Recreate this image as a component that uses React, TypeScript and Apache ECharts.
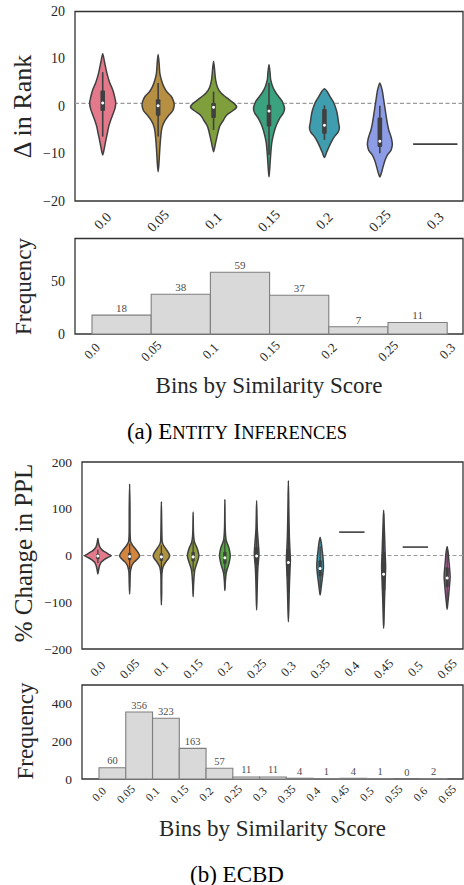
import React, { useEffect, useRef } from 'react';
import * as echarts from 'echarts';

const FONT = 'Liberation Serif, Times New Roman, serif';
const TXT = '#262626';
const OUTLINE = '#404040';

// ---------- (a) Entity Inferences ----------
const topCategories = ['0.0', '0.05', '0.1', '0.15', '0.2', '0.25', '0.3'];
const topColors = ['#e4798c', '#b78f42', '#7f9f3d', '#3ba27f', '#3e9daf', '#8c9ce6', '#d27fd0'];
// violin density profiles: [value, half width as a fraction of the category band]
const topV00 = [[11.1, 0], [9.5, 0.03], [7, 0.075], [5, 0.125], [3.5, 0.18], [2, 0.215], [0.7, 0.235], [-0.5, 0.22], [-1.8, 0.18], [-2.9, 0.145], [-4.2, 0.11], [-5.6, 0.085], [-7, 0.06], [-8.5, 0.035], [-9.5, 0.018], [-10.3, 0]];
const topV05 = [[10.9, 0], [9, 0.018], [7, 0.03], [5.5, 0.06], [4.2, 0.1], [3, 0.16], [2.1, 0.235], [1, 0.28], [0.2, 0.29], [-1, 0.26], [-1.8, 0.2], [-3, 0.125], [-4.3, 0.075], [-5.5, 0.055], [-7.1, 0.042], [-9, 0.03], [-10.6, 0.022], [-12.5, 0.012], [-13.8, 0]];
const topV10 = [[9.5, 0], [7.5, 0.02], [5.6, 0.036], [4, 0.07], [2.8, 0.135], [1.4, 0.28], [0.5, 0.38], [-0.2, 0.415], [-1.0, 0.34], [-1.6, 0.26], [-2.2, 0.215], [-2.9, 0.18], [-4, 0.12], [-5, 0.09], [-6.5, 0.06], [-7.8, 0.036], [-8.8, 0.018], [-9.6, 0]];
const topV15 = [[8.8, 0], [7, 0.02], [5.6, 0.03], [4, 0.07], [2.8, 0.126], [1.8, 0.19], [1, 0.24], [-0.4, 0.28], [-1.5, 0.255], [-2.5, 0.195], [-3.8, 0.14], [-5, 0.103], [-6.5, 0.07], [-7.8, 0.049], [-9.5, 0.035], [-11.3, 0.024], [-13, 0.014], [-14.9, 0]];
const topV20 = [[3.7, 0], [3.2, 0.045], [2.4, 0.085], [1.5, 0.13], [0.7, 0.17], [-0.8, 0.215], [-2.2, 0.24], [-3.5, 0.255], [-4.6, 0.27], [-5.5, 0.245], [-6.4, 0.18], [-7.5, 0.125], [-8.5, 0.085], [-9.7, 0.04], [-10.8, 0]];
const topV25 = [[4.9, 0], [3.5, 0.04], [2.1, 0.06], [0.5, 0.08], [-0.7, 0.096], [-2.2, 0.115], [-3.6, 0.135], [-5, 0.16], [-6.4, 0.2], [-7.3, 0.218], [-8.1, 0.225], [-9.3, 0.2], [-10.3, 0.135], [-11.5, 0.09], [-12.7, 0.06], [-14, 0.03], [-14.9, 0]];
const topProfiles = [topV00, topV05, topV10, topV15, topV20, topV25, null];
// inner box: [whisker low, q1, median, q3, whisker high]
const topBoxes = [
  [-6.4, -1.0, 0.7, 3.3, 7.2],
  [-6.4, -2.0, 0.1, 1.5, 4.9],
  [-5.0, -2.5, -0.2, 0.7, 3.1],
  [-10.3, -4.3, -1.0, 0.3, 4.9],
  [-7.1, -5.8, -4.0, -0.6, 0.2],
  [-9.9, -8.6, -7.4, -2.4, 0.1],
  null,
];
const topSingles = [null, null, null, null, null, null, -8];
const topRefLine = 0.6;
const topYTicks = [-20, 20, 10];
const topBinLabels = ['0.0', '0.05', '0.1', '0.15', '0.2', '0.25', '0.3'];
const topCounts = [18, 38, 59, 37, 7, 11];
const topFreqTicks = [0, 50];

// ---------- (b) ECBD ----------
const botCategories = ['0.0', '0.05', '0.1', '0.15', '0.2', '0.25', '0.3', '0.35', '0.4', '0.45', '0.5', '0.65'];
const botColors = ['#e4798c', '#d3853f', '#ad9240', '#8c9c3f', '#55a640', '#3ca285', '#3ca19e', '#3d9fb6', '#5b9be3', '#9a8ee2', '#c77ed9', '#de72c4'];
const botV00 = [[36.7, 0], [28, 0.02], [18.9, 0.055], [12, 0.13], [8.2, 0.21], [3, 0.33], [-0.4, 0.42], [-4, 0.32], [-8.2, 0.21], [-14, 0.11], [-20, 0.063], [-30, 0.025], [-39.6, 0]];
const botV05 = [[153, 0], [100, 0.012], [50, 0.014], [30, 0.03], [22.5, 0.085], [11.8, 0.21], [5, 0.28], [-0.4, 0.315], [-6, 0.27], [-13, 0.157], [-20, 0.08], [-25, 0.053], [-35, 0.022], [-60, 0.012], [-82.4, 0]];
const botV10 = [[115, 0], [60, 0.012], [30, 0.025], [22.5, 0.063], [11.8, 0.167], [5, 0.23], [-1, 0.26], [-7, 0.22], [-13, 0.148], [-23.9, 0.053], [-40, 0.016], [-80, 0.01], [-106, 0]];
const botV15 = [[93, 0], [50, 0.01], [29.6, 0.04], [15.3, 0.126], [5, 0.17], [1, 0.18], [-5, 0.17], [-13, 0.135], [-22, 0.09], [-31, 0.053], [-45, 0.03], [-65, 0.012], [-88, 0]];
const botV20 = [[120, 0], [60, 0.01], [33, 0.04], [18.9, 0.116], [8, 0.155], [-1, 0.168], [-10, 0.15], [-20, 0.116], [-30, 0.07], [-38, 0.04], [-55, 0.015], [-75, 0]];
const botV25 = [[117, 0], [80, 0.012], [54.5, 0.022], [26, 0.053], [4.7, 0.073], [-10, 0.06], [-24, 0.042], [-40, 0.03], [-59.5, 0.022], [-90, 0.012], [-116.6, 0]];
const botV30 = [[160, 0], [100, 0.014], [40, 0.031], [10, 0.05], [-9.6, 0.063], [-30, 0.05], [-67, 0.031], [-110, 0.015], [-141.5, 0]];
const botV35 = [[39, 0], [25, 0.04], [11.8, 0.063], [-5, 0.09], [-24, 0.105], [-40, 0.085], [-52, 0.063], [-70, 0.03], [-84.5, 0]];
const botV45 = [[97, 0], [70, 0.015], [40, 0.031], [0, 0.05], [-24, 0.063], [-50, 0.05], [-88, 0.031], [-125, 0.015], [-156, 0]];
const botV65 = [[19, 0], [5, 0.035], [-9.6, 0.053], [-30, 0.08], [-45, 0.095], [-60, 0.08], [-81, 0.053], [-100, 0.025], [-115, 0]];
const botProfiles = [botV00, botV05, botV10, botV15, botV20, botV25, botV30, botV35, null, botV45, null, botV65];
const botBoxes = [
  [-16, -8, -1, 4, 13],
  [-30, -10, -2, 6, 25],
  [-32, -12, -3, 5, 22],
  [-35, -13, -3, 8, 30],
  [-40, -18, -5, 8, 35],
  [-60, -20, -1, 18, 55],
  [-80, -45, -15, 15, 70],
  [-70, -45, -28, -10, 20],
  null,
  [-150, -75, -40, 8, 90],
  null,
  [-100, -68, -48, -25, 10],
];
const botSingles = [null, null, null, null, null, null, null, null, 50, null, 18, null];
const botRefLine = 0;
const botBinLabels = ['0.0', '0.05', '0.1', '0.15', '0.2', '0.25', '0.3', '0.35', '0.4', '0.45', '0.5', '0.55', '0.6', '0.65'];
const botCounts = [60, 356, 323, 163, 57, 11, 11, 4, 1, 4, 1, 0, 2];
const botFreqTicks = [0, 200, 400];

const minus = (v: number) => String(v).replace('-', '\u2212');
const fontOf = (s: number) => `${s}px ${FONT}`;

function violinRenderer(profiles: any[], boxes: any[], singles: any[], colors: string[], boxW: number, whiskW: number) {
  return (params: any, api: any) => {
    const i = api.value(0);
    const band = api.size([1, 0])[0];
    const cx = api.coord([i, 0])[0];
    const ys = (v: number) => api.coord([i, v])[1];
    const children: any[] = [];
    if (singles[i] != null) {
      const y = ys(singles[i]);
      children.push({
        type: 'line',
        shape: { x1: cx - 0.4 * band, y1: y, x2: cx + 0.4 * band, y2: y },
        style: { stroke: OUTLINE, lineWidth: 1.6 },
      });
      return { type: 'group', children };
    }
    const prof = profiles[i];
    const right = prof.map((p: number[]) => [cx + p[1] * band, ys(p[0])]);
    const left = prof.slice(1, -1).reverse().map((p: number[]) => [cx - p[1] * band, ys(p[0])]);
    children.push({
      type: 'polygon',
      shape: { points: right.concat(left), smooth: 0.25 },
      style: { fill: colors[i], stroke: OUTLINE, lineWidth: 1.5, lineJoin: 'round' },
    });
    const b = boxes[i];
    children.push({
      type: 'line',
      shape: { x1: cx, y1: ys(b[0]), x2: cx, y2: ys(b[4]) },
      style: { stroke: OUTLINE, lineWidth: whiskW },
    });
    const yq3 = ys(b[3]);
    const yq1 = ys(b[1]);
    children.push({
      type: 'rect',
      shape: { x: cx - boxW / 2, y: yq3, width: boxW, height: yq1 - yq3, r: 1 },
      style: { fill: OUTLINE },
    });
    children.push({
      type: 'circle',
      shape: { cx, cy: ys(b[2]), r: 1.5 },
      style: { fill: '#ffffff' },
    });
    return { type: 'group', children };
  };
}

function refLineRenderer(value: number) {
  return (params: any, api: any) => {
    const cs = params.coordSys;
    const y = api.coord([0, value])[1];
    return {
      type: 'line',
      shape: { x1: cs.x, y1: y, x2: cs.x + cs.width, y2: y },
      style: { stroke: '#9a9a9a', lineWidth: 1.2, lineDash: [4, 2.5] },
    };
  };
}

function histRenderer(labelSize: number) {
  return (params: any, api: any) => {
    const i = api.value(0);
    const c = api.value(1);
    const p0 = api.coord([i, 0]);
    const p1 = api.coord([i + 1, c]);
    return {
      type: 'group',
      children: [
        {
          type: 'rect',
          shape: { x: p0[0], y: p1[1], width: p1[0] - p0[0], height: p0[1] - p1[1] },
          style: { fill: '#d9d9d9', stroke: '#7f7f7f', lineWidth: 1.1 },
        },
        {
          type: 'text',
          x: (p0[0] + p1[0]) / 2,
          y: p1[1] - 1.5,
          style: {
            text: String(c),
            fill: '#4d4d4d',
            font: fontOf(labelSize),
            fontSize: labelSize,
            fontFamily: FONT,
            align: 'center',
            verticalAlign: 'bottom',
            textAlign: 'center',
            textVerticalAlign: 'bottom',
          },
        },
      ],
    };
  };
}

const hidden = { show: false };

function gridBox(left: number, top: number, width: number, height: number) {
  return { left, top, width, height, show: true, borderColor: '#333333', borderWidth: 1.3, backgroundColor: '#ffffff', containLabel: false };
}

function yLabel(size: number) {
  return { fontFamily: FONT, fontSize: size, color: TXT, margin: 10, formatter: minus };
}

function xLabel(size: number, margin: number, fmt?: any, custom?: number[]) {
  const o: any = { fontFamily: FONT, fontSize: size, color: TXT, rotate: 45, align: 'center', verticalAlign: 'middle', margin };
  if (fmt) o.formatter = fmt;
  if (custom) o.customValues = custom;
  return o;
}

function txtStyle(text: string, size: number, color: string) {
  return {
    text,
    font: fontOf(size),
    fontFamily: FONT,
    fontSize: size,
    fill: color,
    align: 'center',
    verticalAlign: 'middle',
    textAlign: 'center',
    textVerticalAlign: 'middle',
  };
}

function vText(text: string, x: number, y: number, size: number) {
  return { type: 'text', x, y, rotation: Math.PI / 2, style: txtStyle(text, size, TXT) };
}

function hText(text: string, x: number, y: number, size: number, color = TXT) {
  return { type: 'text', x, y, style: txtStyle(text, size, color) };
}

function scText(text: string, x: number, y: number, big: number, small: number) {
  const tok = (s: number) => ({ fontFamily: FONT, fontSize: s, color: '#000000', verticalAlign: 'bottom', lineHeight: big });
  return {
    type: 'text',
    x,
    y,
    style: { ...txtStyle(text, big, '#000000'), rich: { b: tok(big), s: tok(small), p: tok(big) } },
  };
}

export default function App() {
  const ref = useRef<HTMLDivElement>(null);
  useEffect(() => {
    if (!ref.current) return;
    const chart = echarts.init(ref.current, null, { renderer: 'svg' });
    const topBinIdx = topBinLabels.map((_, i) => i);
    const botBinIdx = botBinLabels.map((_, i) => i);
    chart.setOption({
      animation: false,
      backgroundColor: '#ffffff',
      textStyle: { fontFamily: FONT },
      grid: [
        gridBox(75, 11.5, 388, 189.5),
        gridBox(75, 238.5, 388, 95.5),
        gridBox(82, 462, 381, 187),
        gridBox(82, 685, 381, 94),
      ],
      xAxis: [
        {
          type: 'category', gridIndex: 0, data: topCategories,
          axisLine: hidden, axisTick: hidden, splitLine: hidden,
          axisLabel: xLabel(14, 20),
        },
        {
          type: 'value', gridIndex: 1, min: -0.287, max: 6.267,
          axisLine: hidden, axisTick: hidden, splitLine: hidden,
          axisLabel: xLabel(13, 17, (v: number) => topBinLabels[Math.round(v)] ?? '', topBinIdx),
        },
        {
          type: 'category', gridIndex: 2, data: botCategories,
          axisLine: hidden, axisTick: hidden, splitLine: hidden,
          axisLabel: { ...xLabel(12.5, 20), interval: 0 },
        },
        {
          type: 'value', gridIndex: 3, min: -0.635, max: 13.6,
          axisLine: hidden, axisTick: hidden, splitLine: hidden,
          axisLabel: xLabel(11.5, 15, (v: number) => botBinLabels[Math.round(v)] ?? '', botBinIdx),
        },
      ],
      yAxis: [
        {
          type: 'value', gridIndex: 0, min: topYTicks[0], max: topYTicks[1], interval: topYTicks[2],
          axisLine: hidden, axisTick: hidden, splitLine: hidden, axisLabel: yLabel(14),
        },
        {
          type: 'value', gridIndex: 1, min: 0, max: 91.3,
          axisLine: hidden, axisTick: hidden, splitLine: hidden,
          axisLabel: { ...yLabel(14), customValues: topFreqTicks },
        },
        {
          type: 'value', gridIndex: 2, min: -200, max: 200, interval: 100,
          axisLine: hidden, axisTick: hidden, splitLine: hidden, axisLabel: yLabel(13.5),
        },
        {
          type: 'value', gridIndex: 3, min: 0, max: 500,
          axisLine: hidden, axisTick: hidden, splitLine: hidden,
          axisLabel: { ...yLabel(13.5), customValues: botFreqTicks },
        },
      ],
      series: [
        { type: 'custom', xAxisIndex: 0, yAxisIndex: 0, silent: true, z: 1, data: [[0]], renderItem: refLineRenderer(topRefLine) },
        {
          type: 'custom', xAxisIndex: 0, yAxisIndex: 0, silent: true, z: 2,
          data: topCategories.map((_, i) => [i]),
          renderItem: violinRenderer(topProfiles, topBoxes, topSingles, topColors, 4.6, 1.6),
        },
        {
          type: 'custom', xAxisIndex: 1, yAxisIndex: 1, silent: true, z: 2,
          data: topCounts.map((c, i) => [i, c]),
          renderItem: histRenderer(11),
        },
        { type: 'custom', xAxisIndex: 2, yAxisIndex: 2, silent: true, z: 1, data: [[0]], renderItem: refLineRenderer(botRefLine) },
        {
          type: 'custom', xAxisIndex: 2, yAxisIndex: 2, silent: true, z: 2,
          data: botCategories.map((_, i) => [i]),
          renderItem: violinRenderer(botProfiles, botBoxes, botSingles, botColors, 3.4, 1.3),
        },
        {
          type: 'custom', xAxisIndex: 3, yAxisIndex: 3, silent: true, z: 2,
          data: botCounts.map((c, i) => [i, c]),
          renderItem: histRenderer(10.5),
        },
      ],
      graphic: [
        vText('\u0394 in Rank', 22.5, 106.5, 26),
        vText('Frequency', 23, 286.5, 23),
        hText('Bins by Similarity Score', 269, 385, 23),
        scText('{p|(a) }{b|E}{s|NTITY}{p| }{b|I}{s|NFERENCES}', 237, 431, 23, 18.5),
        vText('% Change in PPL', 23, 553, 25),
        vText('Frequency', 25, 731, 23),
        hText('Bins by Similarity Score', 272.5, 828, 23),
        hText('(b) ECBD', 237, 874, 23, '#000000'),
      ],
    });
    return () => chart.dispose();
  }, []);
  return <div ref={ref} style={{ position: 'fixed', left: 0, top: 0, width: 464, height: 885, background: '#fff' }} />;
}
